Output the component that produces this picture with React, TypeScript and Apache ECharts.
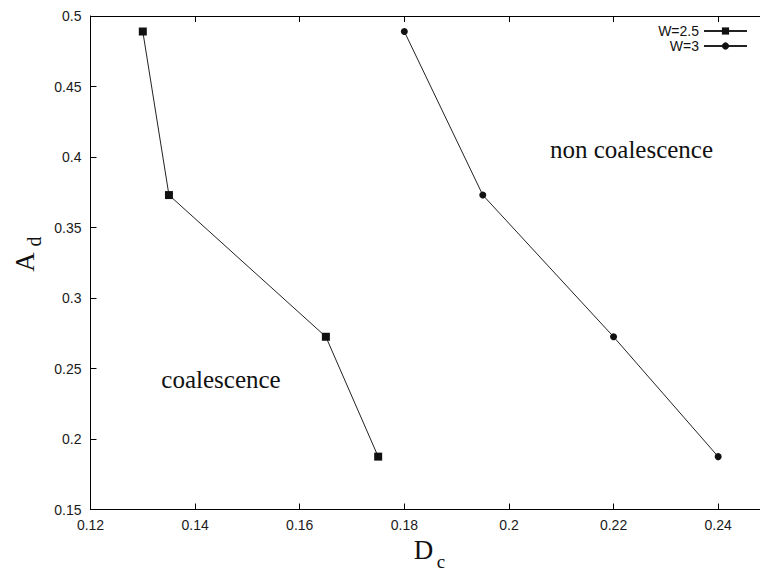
import React, { useEffect, useRef } from "react";
import * as echarts from "echarts";

const seriesNames = ["W=2.5", "W=3"];
const dcW25 = [0.13, 0.135, 0.165, 0.175];
const adW25 = [0.489, 0.373, 0.2725, 0.1875];
const dcW3 = [0.18, 0.195, 0.22, 0.24];
const adW3 = [0.489, 0.373, 0.2725, 0.1875];
const xRange = [0.12, 0.248];
const yRange = [0.15, 0.5];
const xStep = 0.02;
const yStep = 0.05;
const regionLabels = ["coalescence", "non coalescence"];

const fmt = (v: number) => String(parseFloat(v.toFixed(3)));

export default function App() {
  const ref = useRef<HTMLDivElement>(null);
  useEffect(() => {
    if (!ref.current) return;
    const chart = echarts.init(ref.current, undefined, { renderer: "svg" });
    const sans = "Liberation Sans";
    const serif = "Liberation Serif";
    const axisCommon = {
      type: "value" as const,
      axisLine: { show: true, lineStyle: { color: "#000", width: 1 } },
      axisTick: { show: true, inside: true, length: 6, lineStyle: { color: "#000", width: 1 } },
      splitLine: { show: false },
    };
    chart.setOption({
      animation: false,
      backgroundColor: "#fff",
      grid: { left: 90.5, top: 16, right: 0, height: 493.5, containLabel: false },
      legend: {
        right: 7,
        top: 19,
        orient: "vertical",
        align: "right",
        itemWidth: 43,
        itemHeight: 9,
        itemGap: 1,
        textStyle: { fontFamily: sans, fontSize: 14, color: "#111", lineHeight: 14 },
        data: seriesNames,
      },
      xAxis: [
        {
          ...axisCommon,
          position: "bottom",
          min: xRange[0],
          max: xRange[1],
          interval: xStep,
          axisLabel: {
            show: true,
            showMaxLabel: false,
            margin: 8,
            fontFamily: sans,
            fontSize: 14,
            color: "#1a1a1a",
            formatter: (v: number) => fmt(v),
          },
        },
        {
          ...axisCommon,
          position: "top",
          min: xRange[0],
          max: xRange[1],
          interval: xStep,
          axisLabel: { show: false },
        },
      ],
      yAxis: [
        {
          ...axisCommon,
          position: "left",
          min: yRange[0],
          max: yRange[1],
          interval: yStep,
          axisLabel: {
            show: true,
            margin: 9,
            fontFamily: sans,
            fontSize: 14,
            color: "#1a1a1a",
            formatter: (v: number) => fmt(v),
          },
        },
      ],
      series: [
        {
          name: seriesNames[0],
          type: "line",
          xAxisIndex: 0,
          yAxisIndex: 0,
          data: dcW25.map((x, i) => [x, adW25[i]]),
          symbol: "rect",
          symbolSize: 8,
          showAllSymbol: true,
          lineStyle: { color: "#222", width: 1 },
          itemStyle: { color: "#111" },
        },
        {
          name: seriesNames[1],
          type: "line",
          xAxisIndex: 0,
          yAxisIndex: 0,
          data: dcW3.map((x, i) => [x, adW3[i]]),
          symbol: "circle",
          symbolSize: 7,
          showAllSymbol: true,
          lineStyle: { color: "#222", width: 1 },
          itemStyle: { color: "#111" },
        },
      ],
      graphic: [
        {
          type: "text",
          x: 221,
          y: 379.5,
          style: { text: regionLabels[0], fontFamily: serif, fontSize: 25, fill: "#111", align: "center", verticalAlign: "middle" },
        },
        {
          type: "text",
          x: 631.5,
          y: 149.5,
          style: { text: regionLabels[1], fontFamily: serif, fontSize: 25, fill: "#111", align: "center", verticalAlign: "middle" },
        },
        {
          type: "text",
          x: 423.5,
          y: 549.5,
          style: { text: "D", fontFamily: serif, fontSize: 27, fill: "#111", align: "center", verticalAlign: "middle" },
        },
        {
          type: "text",
          x: 441,
          y: 561,
          style: { text: "c", fontFamily: serif, fontSize: 19, fill: "#111", align: "center", verticalAlign: "middle" },
        },
        {
          type: "text",
          x: 24.5,
          y: 262,
          rotation: Math.PI / 2,
          style: { text: "A", fontFamily: serif, fontSize: 27, fill: "#111", align: "center", verticalAlign: "middle" },
        },
        {
          type: "text",
          x: 33.5,
          y: 241.5,
          rotation: Math.PI / 2,
          style: { text: "d", fontFamily: serif, fontSize: 20, fill: "#111", align: "center", verticalAlign: "middle" },
        },
      ],
    });
    return () => chart.dispose();
  }, []);
  return (
    <div
      ref={ref}
      style={{ position: "fixed", left: 0, top: 0, width: 760, height: 572, background: "#fff" }}
    />
  );
}
